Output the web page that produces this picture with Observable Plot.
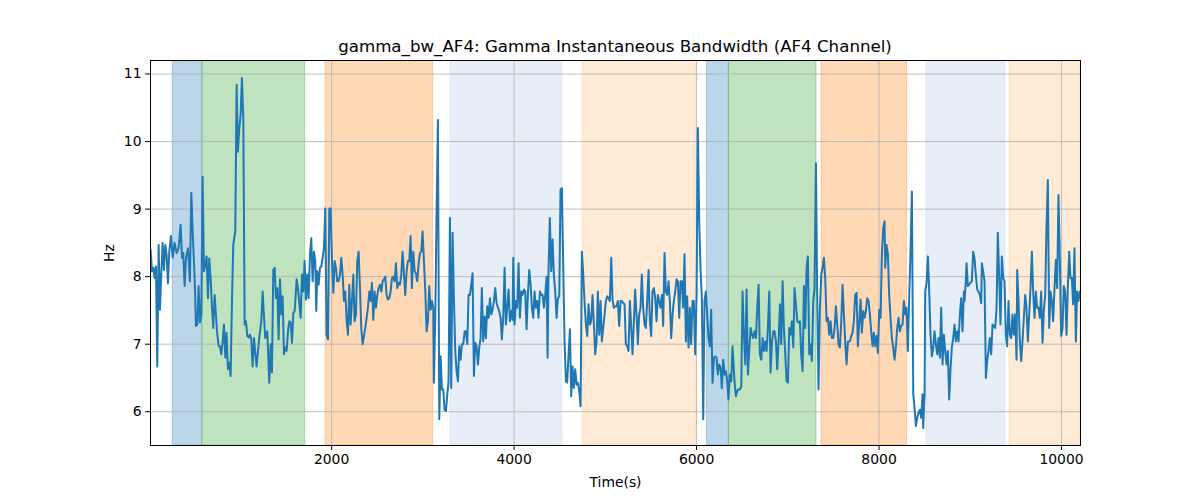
<!DOCTYPE html>
<html><head><meta charset="utf-8">
<script src="https://cdn.jsdelivr.net/npm/d3@7"></script>
<script src="https://cdn.jsdelivr.net/npm/@observablehq/plot@0.6"></script>
<style>
body{margin:0;background:#fff;font-family:"DejaVu Sans",sans-serif;}
#wrap{width:1200px;height:500px;overflow:hidden;}
#title{height:55px;box-sizing:border-box;padding-top:37px;padding-left:30px;text-align:center;font-size:16.67px;line-height:19px;color:#000;white-space:nowrap;}
</style></head><body><div id="wrap"><div id="title">gamma_bw_AF4: Gamma Instantaneous Bandwidth (AF4 Channel)</div><div id="chart"></div></div>
<script>
const timeS = [16,31,46,60,75,89,104,119,133,148,163,177,192,206,221,239,258,279,301,323,345,360,374,389,404,426,447,462,480,499,513,528,542,557,572,586,601,616,630,645,659,674,689,703,718,732,747,762,776,791,805,820,835,849,864,879,893,908,922,944,959,973,988,1003,1017,1032,1047,1061,1076,1090,1105,1120,1134,1149,1163,1178,1193,1207,1229,1244,1258,1273,1295,1317,
1332,1346,1361,1376,1390,1405,1419,1434,1449,1463,1478,1492,1507,1522,1536,1551,1566,1580,1595,1617,1631,1646,1661,1675,1690,1704,1719,1734,1748,1763,1777,1792,1807,1821,1832,1843,1858,1872,1887,1902,1916,1931,1945,1960,1975,1989,2004,2019,2033,2048,2062,2077,2092,2106,2121,2135,2150,2165,2179,2194,2208,2223,2238,2252,2267,2281,2296,2311,2325,2340,2355,2369,2384,2398,2413,2428,2442,2457,2471,2486,2501,2515,2530,2545,2559,2574,
2588,2603,2617,2632,2647,2661,2676,2690,2705,2720,2734,2749,2763,2778,2793,2807,2822,2837,2851,2866,2880,2895,2910,2924,2939,2953,2968,2983,2997,3012,3027,3041,3056,3070,3085,3100,3114,3121,3136,3151,3165,3180,3195,3209,3224,3238,3253,3268,3282,3297,3311,3326,3341,3355,3370,3385,3399,3414,3428,3443,3458,3472,3487,3501,3516,3531,3545,3560,3574,3589,3604,3618,3633,3647,3662,3677,3691,3706,3721,3735,3750,3764,3779,3794,3808,3823,3837,3852,
3866,3881,3896,3910,3925,3940,3954,3969,3983,3991,4005,4020,4034,4049,4064,4078,4093,4108,4122,4137,4151,4166,4181,4195,4210,4224,4239,4254,4268,4283,4298,4312,4327,4341,4356,4367,4378,4392,4407,4422,4436,4451,4466,4480,4495,4509,4524,4539,4553,4568,4582,4597,4612,4626,4641,4655,4670,4685,4699,4714,4729,4743,4758,4772,4787,4802,4816,4831,4845,4860,4875,4889,4904,4918,4933,4948,4962,4977,4992,5006,5021,5035,5050,5065,5079,5094,5108,5123,
5137,5152,5167,5181,5196,5211,5225,5240,5254,5269,5284,5298,5313,5327,5342,5357,5371,5386,5400,5415,5430,5444,5459,5474,5488,5503,5517,5532,5547,5561,5576,5590,5605,5620,5634,5649,5663,5678,5693,5707,5722,5737,5751,5766,5780,5795,5810,5824,5839,5853,5868,5883,5897,5912,5927,5941,5956,5970,5985,6000,6014,6029,6043,6058,6073,6087,6102,6116,6131,6146,6160,6175,6190,6204,6219,6233,6248,6263,6277,6292,6307,6321,6336,6350,6365,6380,6394,
6417,6431,6446,6461,6475,6490,6504,6519,6534,6548,6563,6577,6592,6607,6621,6636,6651,6665,6680,6694,6709,6724,6738,6753,6767,6782,6797,6811,6826,6840,6855,6870,6884,6899,6914,6928,6943,6957,6972,6987,7001,7016,7030,7045,7060,7074,7089,7104,7118,7133,7147,7162,7177,7191,7206,7220,7235,7250,7264,7279,7293,7308,7323,7337,7352,7367,7381,7396,7410,7425,7440,7454,7469,7483,7498,7513,7527,7542,7556,7571,7586,7600,7615,7629,7644,7659,
7666,7680,7695,7710,7724,7739,7754,7768,7783,7797,7812,7827,7841,7856,7870,7885,7900,7914,7929,7943,7958,7973,7987,8002,8017,8031,8046,8060,8068,8082,8097,8111,8126,8141,8155,8170,8185,8199,8214,8228,8243,8258,8272,8287,8301,8316,8331,8345,8360,8375,8389,8404,8418,8433,8448,8462,8477,8484,8499,8506,8521,8535,8550,8564,8579,8594,8608,8623,8638,8652,8667,8681,8696,8711,8725,8740,8754,8769,8784,8798,8813,8827,8842,8857,8871,8886,8900,8915,8930,
8937,8951,8959,8973,8988,9003,9017,9032,9046,9061,9076,9090,9105,9119,9127,9141,9156,9171,9185,9200,9214,9229,9244,9258,9273,9288,9302,9317,9331,9346,9361,9375,9390,9404,9419,9434,9448,9463,9477,9492,9507,9514,9529,9543,9558,9572,9587,9602,9616,9631,9646,9660,9675,9689,9704,9719,9733,9748,9762,9777,9792,9806,9821,9835,9850,9865,9879,9894,9908,9923,9938,9952,9967,9982,9996,10011,10025,10040,10055,10069,10084,10098,10113,10127,10142,10157,10171,10186,10200];

const bwHz = [8.40,8.08,8.13,7.98,8.15,6.67,8.47,7.51,8.03,8.50,8.10,8.47,8.32,7.90,8.37,8.60,8.28,8.50,8.35,8.42,8.77,8.28,8.35,7.86,8.28,8.42,7.93,9.24,8.57,7.98,7.27,7.29,7.86,7.32,7.44,9.48,8.08,8.18,8.30,7.68,8.27,7.98,7.54,7.24,7.73,7.44,7.14,6.97,6.97,6.85,7.02,7.29,6.80,7.17,6.63,6.73,6.53,7.64,8.47,8.67,10.84,9.85,10.20,10.40,10.94,10.35,7.29,7.34,7.12,7.10,7.14,7.07,6.67,7.09,6.88,6.67,6.90,7.09,7.34,7.78,7.43,7.09,7.19,6.43,
7.00,6.58,8.10,8.13,7.68,7.83,7.07,7.96,7.44,7.71,6.85,6.95,6.90,7.19,7.34,7.32,7.02,7.46,7.49,7.96,7.83,7.61,7.39,8.03,7.78,8.23,7.66,8.03,7.68,8.33,8.57,7.93,8.37,8.23,7.49,8.08,7.88,8.13,8.15,8.28,8.42,9.01,7.14,7.07,9.01,9.01,8.23,7.76,8.23,8.13,7.93,7.93,8.03,8.28,8.03,7.64,7.78,7.34,7.14,7.88,7.29,7.64,8.03,7.34,7.44,8.23,8.37,7.83,7.24,7.00,7.12,7.24,7.39,7.54,7.78,7.64,7.91,7.36,7.78,7.54,7.73,7.83,7.88,7.78,7.93,7.96,
8.00,7.73,7.66,7.68,7.78,7.98,8.00,7.93,8.20,7.83,7.91,7.88,8.03,8.37,8.03,7.73,8.08,8.23,8.23,8.60,7.83,8.37,8.08,8.05,7.93,8.18,8.35,8.37,8.67,8.23,7.78,7.19,7.34,7.86,7.51,7.64,7.54,6.43,7.39,9.01,10.32,5.89,6.82,6.33,6.33,6.03,6.01,6.26,6.45,8.87,6.35,8.65,7.64,6.90,6.60,6.45,6.97,6.77,7.00,7.00,7.19,7.19,7.00,7.73,7.73,7.88,8.05,6.53,7.02,6.97,6.70,6.95,7.09,7.83,7.04,7.41,7.09,7.56,7.39,7.68,7.44,7.51,7.64,7.83,7.61,7.54,7.49,7.39,
7.07,7.39,8.13,7.29,7.54,7.81,7.34,7.49,7.36,8.28,7.29,7.64,7.54,8.20,7.39,7.78,7.73,7.81,7.78,7.22,7.73,8.10,7.88,7.54,7.39,7.78,7.54,7.64,7.39,7.78,7.73,7.73,7.54,7.73,8.00,6.80,8.13,8.87,8.08,8.55,8.03,7.78,7.39,7.68,7.71,9.29,9.31,8.13,7.04,6.45,6.43,6.85,7.22,6.23,6.67,6.35,6.63,6.40,6.43,6.31,6.08,8.37,8.03,7.64,7.29,7.12,7.59,7.29,7.34,7.73,7.29,6.85,7.04,7.78,7.14,7.64,7.04,7.24,7.44,7.64,7.71,7.68,7.64,8.28,7.66,7.54,7.56,7.56,
7.64,7.27,7.64,7.64,7.61,7.59,7.00,6.97,6.90,7.64,7.24,6.85,7.34,7.81,7.44,7.00,7.44,7.54,8.03,7.54,7.29,7.24,7.64,8.10,7.34,7.12,7.78,7.83,7.68,7.34,7.73,7.64,7.54,7.73,7.27,8.35,7.78,7.73,7.93,7.64,7.09,7.44,7.64,7.78,7.96,7.93,7.39,7.93,7.93,7.54,8.33,7.04,7.71,6.95,7.54,7.00,7.64,7.64,6.85,7.73,10.20,8.82,8.13,7.68,5.89,7.64,7.78,7.44,7.09,6.97,7.51,6.43,6.80,6.82,6.80,6.55,6.70,6.65,6.35,6.77,6.55,6.60,6.45,6.18,6.55,6.45,6.97,
6.43,6.23,6.31,6.33,6.33,6.38,7.78,7.14,6.70,7.81,6.55,6.90,7.24,7.14,7.09,7.19,7.09,7.54,7.88,6.85,6.77,7.09,6.90,7.04,6.90,7.24,7.78,6.58,7.02,7.19,7.19,7.04,6.63,7.04,7.59,7.00,7.93,7.24,6.85,6.45,6.43,7.24,7.14,7.34,6.95,7.83,7.59,7.34,7.32,7.34,6.85,6.60,7.86,7.24,8.13,8.30,6.85,7.00,6.75,7.64,7.83,9.68,7.64,6.33,7.54,8.03,8.13,8.28,7.98,7.34,7.39,7.14,7.34,7.09,7.09,7.24,7.56,7.29,7.00,6.95,7.34,7.88,7.44,7.04,6.70,7.04,
7.04,7.04,7.12,7.17,7.34,7.73,7.76,6.97,7.32,7.66,7.17,7.49,7.39,7.49,7.68,7.64,7.44,7.19,6.97,7.17,6.97,7.12,6.87,7.51,7.39,8.33,8.72,8.82,8.13,8.47,8.33,7.73,7.39,7.09,6.95,6.77,6.97,7.24,7.39,7.19,7.27,7.29,7.64,7.44,7.54,6.90,7.73,8.37,9.26,6.26,6.06,5.79,5.91,5.99,6.03,5.91,6.26,5.76,6.26,7.78,7.91,8.30,7.78,7.14,6.82,6.95,7.19,7.00,6.85,7.09,6.80,7.54,6.70,7.14,6.90,6.70,6.90,6.18,6.65,6.95,7.09,7.29,7.04,7.19,7.04,7.44,7.68,7.19,7.78,
7.64,7.93,8.20,7.86,7.88,7.91,7.93,8.37,8.28,8.03,7.81,7.78,7.73,7.61,8.20,8.08,7.93,6.50,6.75,6.90,7.09,6.85,7.29,7.27,7.24,7.54,8.65,7.98,7.29,8.30,7.98,7.93,7.14,6.97,7.64,7.14,7.09,7.44,7.14,7.44,6.77,8.10,7.64,7.04,6.75,7.04,7.39,7.73,7.54,7.04,7.44,7.83,8.37,7.78,7.39,7.78,7.54,7.54,7.39,7.78,7.02,7.49,7.73,8.72,9.43,7.24,7.78,7.64,7.34,7.83,8.25,7.83,9.21,8.23,7.12,7.24,7.86,7.78,7.14,7.83,8.37,7.98,7.98,7.59,8.42,7.04,7.78,7.64,7.78];

const spanStart = [258, 583, 1934, 3304, 4751, 6113, 6354, 7370, 8521, 9430];
const spanEnd   = [583, 1711, 3114, 4528, 6000, 6354, 7315, 8309, 9386, 10208];
const spanColor = ["#1f77b4","#2ca02c","#ff7f0e","#aec7e8","#ffbb78","#1f77b4","#2ca02c","#ff7f0e","#aec7e8","#ffbb78"];

const xTicks = [2000, 4000, 6000, 8000, 10000];
const yTicks = [6, 7, 8, 9, 10, 11];

const series = timeS.map((t, i) => ({t, v: bwHz[i]}));
const spans = spanStart.map((s, i) => ({start: s, end: spanEnd[i], color: spanColor[i]}));

const chart = Plot.plot({
  width: 1200, height: 445,
  marginLeft: 150, marginRight: 120, marginTop: 5, marginBottom: 55,
  style: {fontFamily: "DejaVu Sans", fontSize: "13.9px", color: "#000", background: "#fff", overflow: "visible"},
  x: {domain: [15, 10208]},
  y: {domain: [5.5, 11.2]},
  color: {type: "identity"},
  marks: [
    Plot.rect(spans, {x1: "start", x2: "end", fill: "color", fillOpacity: 0.3, stroke: "color", strokeOpacity: 0.3, strokeWidth: 1, clip: true}),
    Plot.gridX(xTicks, {stroke: "#b0b0b0", strokeOpacity: 1, strokeWidth: 0.8}),
    Plot.gridY(yTicks, {stroke: "#b0b0b0", strokeOpacity: 1, strokeWidth: 0.8}),
    Plot.line(series, {x: "t", y: "v", stroke: "#1f77b4", strokeWidth: 2, strokeLinejoin: "round", clip: true}),
    Plot.frame({stroke: "#000", strokeWidth: 1}),
    Plot.axisX(xTicks, {tickSize: 5, tickPadding: 4, tickFormat: d => String(d), label: "Time(s)", labelAnchor: "center", labelOffset: 41, labelArrow: "none"}),
    Plot.axisY(yTicks, {tickSize: 5, tickPadding: 4, tickFormat: d => String(d), label: "Hz", labelAnchor: "center", labelOffset: 46, labelArrow: "none"})
  ]
});
document.getElementById("chart").appendChild(chart);
</script>
</body></html>
